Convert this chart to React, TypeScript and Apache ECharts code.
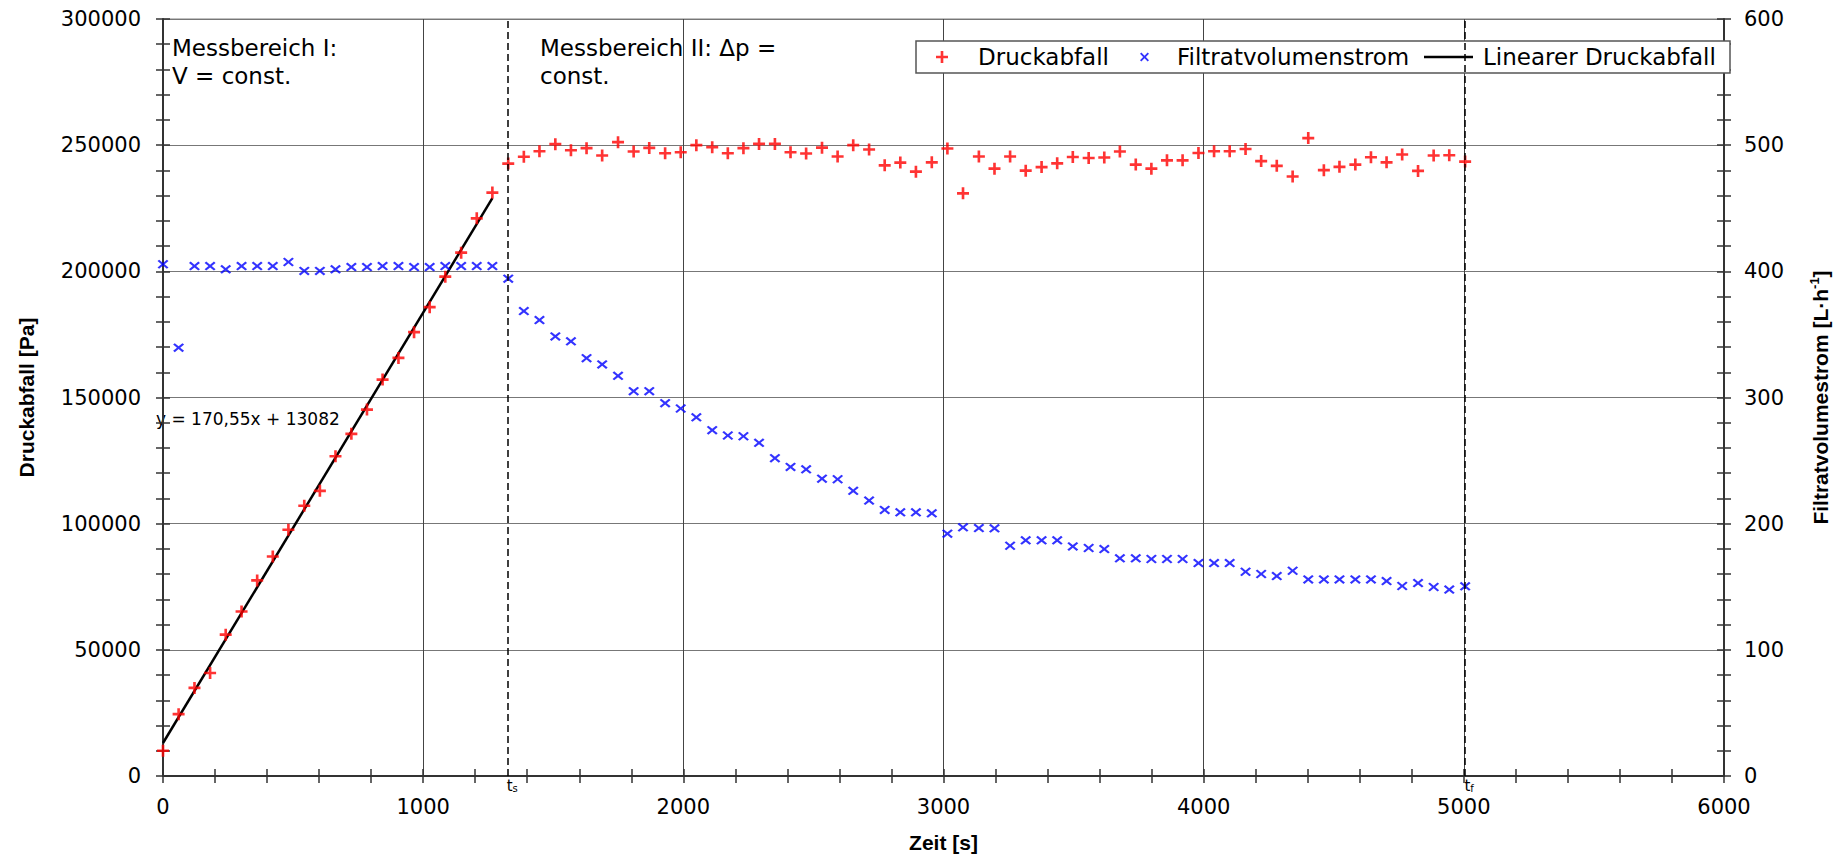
import React, { useEffect, useRef } from "react";
import * as echarts from "echarts";

// Zeit [s]
const times = [
  0, 60, 121, 181, 241, 302, 362, 422, 482, 543, 603, 663, 724, 784, 844, 905, 965, 1025, 1085, 1146,
  1206, 1266, 1327, 1387, 1447, 1508, 1568, 1628, 1688, 1749, 1809, 1869, 1930, 1990, 2050, 2111, 2171,
  2231, 2291, 2352, 2412, 2472, 2533, 2593, 2653, 2714, 2774, 2834, 2894, 2955, 3015, 3075, 3136, 3196,
  3256, 3316, 3377, 3437, 3497, 3558, 3618, 3678, 3739, 3799, 3859, 3919, 3980, 4040, 4100, 4161, 4221,
  4281, 4342, 4402, 4462, 4522, 4583, 4643, 4703, 4763, 4824, 4884, 4944, 5005,
];

// Druckabfall [Pa]
const druckabfall = [
  10000, 24500, 34900, 40800, 56000, 65200, 77500, 87000, 97600, 107100, 113000, 126700, 135600, 145200,
  157100, 165700, 175900, 185800, 197900, 207400, 221000, 231200, 242700, 245400, 247600, 250400, 248000,
  248800, 245900, 251200, 247500, 248900, 246800, 247200, 250000, 249200, 246800, 248800, 250500, 250500,
  247200, 246700, 249000, 245500, 250000, 248300, 242000, 243100, 239500, 243200, 248700, 230900, 245500,
  240700, 245500, 239900, 241300, 242800, 245300, 244900, 245100, 247500, 242300, 240700, 244000, 244000,
  246900, 247600, 247600, 248500, 243700, 241800, 237600, 252800, 240100, 241400, 242300, 245200, 243200,
  246300, 239800, 245900, 246000, 243500,
];

// Filtratvolumenstrom [L/h]
const filtrat = [
  405.6, 339.5, 404.2, 404.2, 401.6, 404.2, 404.2, 404.2, 407.4, 400.3, 400.3, 401.6, 403.4, 403.4, 404.2,
  404.2, 403.4, 403.4, 404.2, 404.2, 404.2, 404.2, 394.2, 368.5, 361.4, 348.4, 344.5, 331.2, 326.2, 317.2,
  305.0, 305.0, 295.5, 291.3, 284.3, 274.1, 269.9, 269.3, 264.1, 251.9, 245.0, 243.1, 235.7, 235.2, 226.0,
  218.3, 210.9, 209.0, 209.0, 208.2, 192.1, 197.1, 196.5, 196.3, 182.5, 186.8, 186.8, 186.8, 182.0, 180.7,
  179.9, 172.5, 172.5, 172.0, 172.0, 172.0, 168.8, 168.8, 168.8, 161.9, 160.1, 158.5, 162.7, 155.8, 155.8,
  155.8, 155.8, 155.8, 154.5, 150.6, 152.9, 149.8, 147.8, 150.3,
];

// Linear fit y = 170,55x + 13082 over Messbereich I
const slope = 170.55;
const intercept = 13082;
const fitStart = times[0];
const fitEnd = times[21];
const tS = times[22];
const tF = times[83];

const xTicks = { min: 0, max: 6000, interval: 1000 };
const yLeftTicks = { min: 0, max: 300000, interval: 50000 };
const yRightTicks = { min: 0, max: 600, interval: 100 };

const plusPath =
  "path://M-1,-0.22L1,-0.22L1,0.22L-1,0.22Z M-0.22,-1L0.22,-1L0.22,1L-0.22,1Z";
const crossPath =
  "path://M-1,-0.7L-0.7,-1L0,-0.3L0.7,-1L1,-0.7L0.3,0L1,0.7L0.7,1L0,0.3L-0.7,1L-1,0.7L-0.3,0Z";

const FONT = "DejaVu Sans";
const BOLD_FONT = "Liberation Sans";
const AX = "#333";

export default function App() {
  const ref = useRef<HTMLDivElement>(null);

  useEffect(() => {
    if (!ref.current) return;
    const chart = echarts.init(ref.current, null, { renderer: "svg" });

    const tickStyle = { color: AX, width: 1.5 };
    const outerTick = { show: true, inside: false, length: 7, lineStyle: tickStyle };
    const innerTick = { show: true, inside: true, length: 7, lineStyle: tickStyle };
    const minorTick = { show: true, splitNumber: 5, length: 7, lineStyle: tickStyle };
    const plain = (v: number) => String(v);

    const dupAxis = (extra: any) => ({
      type: "value",
      axisLine: { show: false, onZero: false },
      axisTick: innerTick,
      minorTick: minorTick,
      axisLabel: { show: false },
      splitLine: { show: false },
      ...extra,
    });

    const legendText = { fontFamily: FONT, fontSize: 23, color: "#000", lineHeight: 24 };
    const legendBase = {
      top: 45,
      orient: "horizontal",
      padding: 0,
      borderWidth: 0,
      selectedMode: false,
    };

    const option: any = {
      animation: false,
      backgroundColor: "#ffffff",
      textStyle: { fontFamily: FONT },
      grid: {
        left: 163,
        right: 117,
        top: 19,
        bottom: 81,
        show: true,
        borderColor: "#808080",
        borderWidth: 1,
        backgroundColor: "transparent",
      },
      legend: [
        {
          ...legendBase,
          left: 936,
          itemWidth: 12,
          itemHeight: 12,
          textStyle: { ...legendText, padding: [0, 0, 0, 25] },
          data: [{ name: "Druckabfall", icon: plusPath }],
        },
        {
          ...legendBase,
          left: 1140,
          itemWidth: 11,
          itemHeight: 9,
          textStyle: { ...legendText, padding: [0, 0, 0, 22] },
          data: [{ name: "Filtratvolumenstrom", icon: crossPath }],
        },
        {
          ...legendBase,
          left: 1424,
          itemWidth: 49,
          itemHeight: 2.5,
          textStyle: { ...legendText, padding: [0, 0, 0, 5] },
          data: [{ name: "Linearer Druckabfall", icon: "rect" }],
        },
      ],
      xAxis: [
        {
          type: "value",
          ...xTicks,
          position: "bottom",
          name: "Zeit [s]",
          nameLocation: "middle",
          nameGap: 56,
          nameTextStyle: { fontFamily: BOLD_FONT, fontWeight: "bold", fontSize: 21, color: "#000" },
          axisLine: { show: true, onZero: false, lineStyle: { color: AX, width: 2 } },
          axisTick: outerTick,
          minorTick: minorTick,
          axisLabel: { margin: 20, fontSize: 21, color: "#000", fontFamily: FONT, formatter: plain },
          splitLine: { show: true, lineStyle: { color: "#444", width: 1 } },
        },
        dupAxis({ ...xTicks, position: "bottom" }),
      ],
      yAxis: [
        {
          type: "value",
          ...yLeftTicks,
          position: "left",
          name: "Druckabfall [Pa]",
          nameLocation: "middle",
          nameGap: 126,
          nameTextStyle: { fontFamily: BOLD_FONT, fontWeight: "bold", fontSize: 21, color: "#000" },
          axisLine: { show: true, onZero: false, lineStyle: { color: AX, width: 2 } },
          axisTick: outerTick,
          minorTick: minorTick,
          axisLabel: { margin: 22, fontSize: 21, color: "#000", fontFamily: FONT, formatter: plain },
          splitLine: { show: true, lineStyle: { color: "#777", width: 1 } },
        },
        {
          type: "value",
          ...yRightTicks,
          position: "right",
          name: "Filtratvolumestrom [L·h{sup|-1}]",
          nameLocation: "middle",
          nameGap: 84,
          nameTextStyle: {
            fontFamily: BOLD_FONT,
            fontWeight: "bold",
            fontSize: 21,
            color: "#000",
            lineHeight: 24,
            rich: {
              sup: {
                fontFamily: BOLD_FONT,
                fontWeight: "bold",
                fontSize: 13,
                lineHeight: 12,
                verticalAlign: "top",
                color: "#000",
              },
            },
          },
          axisLine: { show: true, onZero: false, lineStyle: { color: AX, width: 2 } },
          axisTick: outerTick,
          minorTick: minorTick,
          axisLabel: { margin: 20, fontSize: 21, color: "#000", fontFamily: FONT, formatter: plain },
          splitLine: { show: false },
        },
        dupAxis({ ...yLeftTicks, position: "left" }),
        dupAxis({ ...yRightTicks, position: "right" }),
      ],
      graphic: [
        {
          type: "rect",
          z: 3,
          shape: { x: 916, y: 41, width: 814, height: 32 },
          style: { fill: "#fff", stroke: "#555", lineWidth: 1.5 },
        },
        {
          type: "text",
          left: 172,
          top: 34,
          style: {
            text: "Messbereich I:\nV = const.",
            fontFamily: FONT,
            fontSize: 23,
            lineHeight: 28,
            fill: "#000",
          },
        },
        {
          type: "text",
          left: 540,
          top: 34,
          style: {
            text: "Messbereich II: Δp =\nconst.",
            fontFamily: FONT,
            fontSize: 23,
            lineHeight: 28,
            fill: "#000",
          },
        },
        {
          type: "text",
          left: 156,
          top: 410,
          style: {
            text: "y = 170,55x + 13082",
            fontFamily: FONT,
            fontSize: 17,
            fill: "#000",
          },
        },
      ],
      series: [
        {
          name: "Linearer Druckabfall",
          type: "line",
          xAxisIndex: 0,
          yAxisIndex: 0,
          symbol: "none",
          lineStyle: { color: "#000", width: 2.5 },
          itemStyle: { color: "#000" },
          z: 2,
          data: [
            [fitStart, slope * fitStart + intercept],
            [fitEnd, slope * fitEnd + intercept],
          ],
          markLine: {
            silent: true,
            symbol: ["none", "none"],
            lineStyle: { color: "#000", type: [7, 4], width: 1.5 },
            label: {
              show: true,
              position: "start",
              distance: 2,
              padding: [0, 0, 0, 8],
              rich: {
                t: { fontFamily: FONT, fontSize: 15, color: "#000" },
                s: { fontFamily: FONT, fontSize: 10, color: "#000", verticalAlign: "bottom", lineHeight: 12 },
              },
            },
            data: [
              { xAxis: tS, label: { formatter: "{t|t}{s|s}" } },
              { xAxis: tF, label: { formatter: "{t|t}{s|f}" } },
            ],
          },
        },
        {
          name: "Druckabfall",
          type: "scatter",
          xAxisIndex: 0,
          yAxisIndex: 0,
          symbol: plusPath,
          symbolSize: 12,
          itemStyle: { color: "#ff0000" },
          z: 3,
          data: times.map((t, i) => [t, druckabfall[i]]),
        },
        {
          name: "Filtratvolumenstrom",
          type: "scatter",
          xAxisIndex: 0,
          yAxisIndex: 1,
          symbol: crossPath,
          symbolSize: [11, 9],
          itemStyle: { color: "#0000ff" },
          z: 3,
          data: times.map((t, i) => [t, filtrat[i]]),
        },
      ],
    };

    chart.setOption(option);
    return () => chart.dispose();
  }, []);

  return (
    <div
      ref={ref}
      style={{ position: "fixed", left: 0, top: 0, width: 1841, height: 858, background: "#fff" }}
    />
  );
}
